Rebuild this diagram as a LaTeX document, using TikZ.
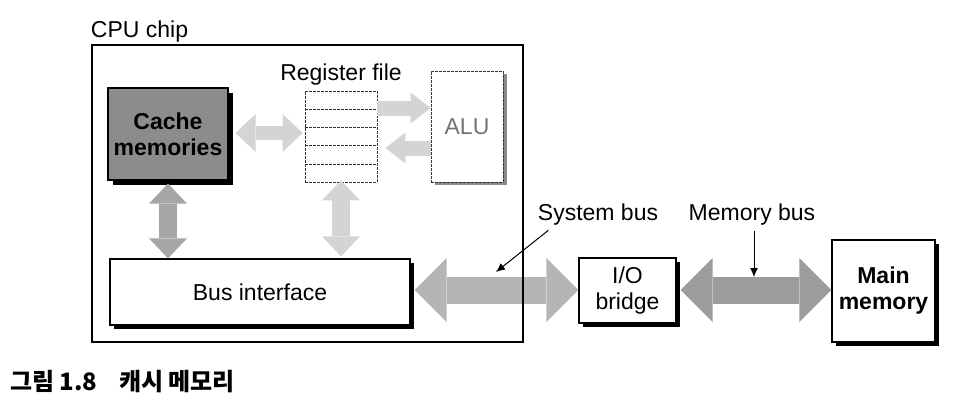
\documentclass[tikz,border=0pt]{standalone}
\usepackage{fontspec}
\setmainfont{Liberation Sans}
\newfontfamily\krfont{Noto Sans CJK KR}
\usetikzlibrary{arrows.meta,calc,shadows}
\definecolor{cacheG}{HTML}{8C8C8C}
\definecolor{sysG}{HTML}{B5B5B5}
\definecolor{memG}{HTML}{9C9C9C}
\definecolor{vertG}{HTML}{A6A6A6}
\definecolor{regG}{HTML}{D4D4D4}

\begin{document}
\begin{tikzpicture}[x=1pt,y=-1pt,font=\fontsize{23}{26}\selectfont,
  box/.style={draw,line width=1.2pt,fill=white,align=center,inner sep=0pt},
  shbox/.style={box,drop shadow={shadow xshift=4pt,shadow yshift=-4pt,fill=black,opacity=1}},
  dotbox/.style={draw=black!80,line width=0.8pt,dash pattern=on 3pt off 1pt,fill=white,inner sep=0pt},
  fat/.style={line width=27pt,draw=#1,
    {Triangle[length=32pt,width=64pt,line width=0pt]}-{Triangle[length=32pt,width=64pt,line width=0pt]}},
  mid/.style={line width=#1,draw=vertG,
    {Triangle[length=20pt,width=38pt,line width=0pt]}-{Triangle[length=20pt,width=38pt,line width=0pt]}},
  one/.style={line width=15pt,draw=regG,-{Triangle[length=20pt,width=31pt,line width=0pt]}},
  ptr/.style={line width=1pt,-{Latex[length=9pt,width=8pt]}}]
\useasboundingbox (0,0) rectangle (960,407);

% boxes inside the chip
\node[box,fill=cacheG,font=\fontsize{23}{26}\selectfont\bfseries,
  drop shadow={shadow xshift=5pt,shadow yshift=-5pt,fill=black,opacity=1},
  minimum width=120pt,minimum height=92pt] (cache) at (168,134) {Cache\\memories};
\node[dotbox,minimum width=72pt,minimum height=91pt] (reg) at (341,136.5) {};
\foreach \i in {1,...,4}
  \draw[black!80,line width=0.8pt,dash pattern=on 3pt off 1pt]
    ($(reg.north west)!\i/5!(reg.south west)$) -- ($(reg.north east)!\i/5!(reg.south east)$);
\node[anchor=base] (reglbl) at (reg.north |- 0,80) {Register file};
\node[dotbox,text=black!55,drop shadow={shadow xshift=4pt,shadow yshift=-3pt,fill=black!45,opacity=1},
  minimum width=72pt,minimum height=111pt] (alu) at (467,126.5) {ALU};
\node[shbox,minimum width=300pt,minimum height=66pt] (bus) at (260,292) {Bus interface};

% outside the chip
\node[shbox,minimum width=97pt,minimum height=65pt] (io) at (627.5,290.5) {I/O\\bridge};
\node[shbox,font=\fontsize{23}{26}\selectfont\bfseries,
  minimum width=103pt,minimum height=102pt] (mem) at (883.5,291) {Main\\memory};

% buses
\draw[mid=14pt,draw=regG] ([xshift=7pt]cache.east |- 0,133) -- ([xshift=-2pt]reg.west |- 0,133);
\draw[one] (reg.east |- 0,108) -- (alu.west |- 0,108);
\draw[one] (alu.west |- 0,148) -- ([xshift=8pt]reg.east |- 0,148);
\draw[mid=18pt] ([yshift=-3pt]cache.south) -- (cache.south |- bus.north);
\draw[mid=18pt,draw=regG] ([yshift=2pt]reg.south) -- ([yshift=2pt]reg.south |- bus.north);
\draw[fat=sysG] ([xshift=4pt]bus.east |- 0,290) -- (io.west |- 0,290);
\draw[fat=memG] ([xshift=4pt]io.east |- 0,290) -- (mem.west |- 0,290);

\node[draw,line width=2.5pt,minimum width=431pt,minimum height=297pt] (chip) at (307.5,193.5) {};
\node[anchor=base west,inner sep=0pt] (chiplbl) at (chip.north west |- 0,37) {CPU chip};

% bus labels
\node[anchor=base] (syslbl) at (598,220) {System bus};
\node[anchor=base] (memlbl) at (752,220) {Memory bus};
\coordinate (systip) at (496,272);
\coordinate (memtip) at (754,277);
\draw[ptr] ([xshift=14pt,yshift=-2pt]syslbl.south west) -- (systip);
\draw[ptr] ([yshift=-3pt]memlbl.south -| memtip) -- (memtip);

\node[anchor=base west,inner sep=0pt,font=\krfont\bfseries\fontsize{24}{26}\selectfont]
  (cap) at (10,390) {그림 1.8\hspace{0.9em}캐시 메모리};
\end{tikzpicture}
\end{document}
